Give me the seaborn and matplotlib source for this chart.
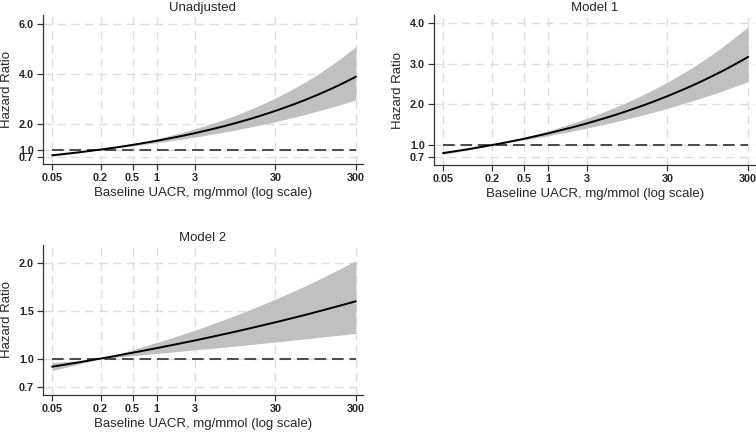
import matplotlib
matplotlib.use('Agg')
import matplotlib.pyplot as plt
import seaborn as sns
import pandas as pd
import numpy as np

# UACR grid (mg/mmol) read along the x axis
uacr = [0.05, 0.1, 0.2, 0.3, 0.5, 1, 2, 3, 5, 7, 10, 15, 20, 30, 50, 70, 100, 150, 200, 300]

# Unadjusted
hr_unadj = [0.773, 0.879, 1.0, 1.078, 1.186, 1.349, 1.535, 1.655, 1.820, 1.937,
            2.071, 2.232, 2.356, 2.540, 2.793, 2.974, 3.177, 3.425, 3.614, 3.897]
up_unadj = [0.813, 0.902, 1.0, 1.094, 1.227, 1.431, 1.670, 1.829, 2.048, 2.207,
            2.391, 2.615, 2.790, 3.053, 3.421, 3.688, 3.991, 4.367, 4.658, 5.097]
lo_unadj = [0.735, 0.857, 1.0, 1.062, 1.147, 1.272, 1.411, 1.498, 1.617, 1.700,
            1.794, 1.905, 1.990, 2.113, 2.280, 2.398, 2.529, 2.686, 2.804, 2.979]

# Model 1
hr_m1 = [0.804, 0.896, 1.0, 1.066, 1.155, 1.289, 1.438, 1.533, 1.662, 1.752,
         1.854, 1.976, 2.068, 2.205, 2.390, 2.520, 2.666, 2.842, 2.975, 3.171]
up_m1 = [0.837, 0.914, 1.0, 1.079, 1.186, 1.351, 1.537, 1.659, 1.825, 1.943,
         2.076, 2.239, 2.364, 2.549, 2.806, 2.986, 3.191, 3.444, 3.635, 3.919]
lo_m1 = [0.772, 0.878, 1.0, 1.054, 1.125, 1.230, 1.345, 1.417, 1.514, 1.580,
         1.655, 1.744, 1.809, 1.907, 2.036, 2.127, 2.227, 2.345, 2.435, 2.565]

# Model 2
hr_m2 = [0.915, 0.956, 1.0, 1.026, 1.061, 1.109, 1.160, 1.190, 1.230, 1.257,
         1.286, 1.320, 1.345, 1.380, 1.426, 1.457, 1.491, 1.531, 1.559, 1.600]
up_m2 = [0.957, 0.978, 1.0, 1.039, 1.093, 1.168, 1.249, 1.298, 1.365, 1.410,
         1.460, 1.518, 1.560, 1.623, 1.704, 1.760, 1.822, 1.895, 1.949, 2.026]
lo_m2 = [0.875, 0.935, 1.0, 1.013, 1.030, 1.053, 1.077, 1.091, 1.108, 1.120,
         1.133, 1.148, 1.159, 1.173, 1.193, 1.206, 1.220, 1.237, 1.247, 1.264]

x_ticks = [0.05, 0.2, 0.5, 1, 3, 30, 300]
x_ticklabels = ['0.05', '0.2', '0.5', '1', '3', '30', '300']

sns.set_style('ticks')
plt.rcParams['font.family'] = ['Liberation Sans', 'DejaVu Sans']

fig = plt.figure(figsize=(7.56, 4.32), dpi=100)

panels = [
    ('Unadjusted', hr_unadj, up_unadj, lo_unadj, [0.7, 1.0, 2.0, 4.0, 6.0], (0.42, 6.35),
     [0.057, 0.620, 0.423, 0.345]),
    ('Model 1', hr_m1, up_m1, lo_m1, [0.7, 1.0, 2.0, 3.0, 4.0], (0.51, 4.2),
     [0.574, 0.618, 0.425, 0.347]),
    ('Model 2', hr_m2, up_m2, lo_m2, [0.7, 1.0, 1.5, 2.0], (0.62, 2.19),
     [0.057, 0.086, 0.423, 0.347]),
]

for title, hr, up, lo, yt, ylim, pos in panels:
    ax = fig.add_axes(pos)
    df = pd.DataFrame({'uacr': uacr, 'hr': hr, 'upper': up, 'lower': lo})
    ax.fill_between(df['uacr'], df['lower'], df['upper'], color='#c0c0c0', lw=0, zorder=2)
    sns.lineplot(data=df, x='uacr', y='hr', color='black', lw=1.4, ax=ax, zorder=3)
    ax.hlines(1.0, uacr[0], uacr[-1], color='#4a4a4a', lw=1.4, linestyles=(0, (6, 3)), zorder=2.5)
    ax.set_xscale('log')
    ax.set_xlim(0.0386, 367)
    ax.set_ylim(*ylim)
    ax.set_xticks(x_ticks)
    ax.set_xticklabels(x_ticklabels)
    ax.minorticks_off()
    ax.set_yticks(yt)
    ax.set_yticklabels([f'{v:.1f}' for v in yt])
    ax.grid(True, color='#dddddd', lw=1.0, ls=(0, (6, 4)), zorder=0)
    ax.set_axisbelow(True)
    for lab in ax.get_xticklabels() + ax.get_yticklabels():
        lab.set_fontweight('bold')
        lab.set_fontsize(7.8)
    ax.tick_params(length=4.5, width=0.9, pad=2, color='#333333')
    sns.despine(ax=ax)
    for s in ['left', 'bottom']:
        ax.spines[s].set_linewidth(0.9)
        ax.spines[s].set_color('#333333')
    ax.set_xlabel('Baseline UACR, mg/mmol (log scale)', fontsize=9.5, labelpad=3)
    ax.set_ylabel('Hazard Ratio', fontsize=9.5, labelpad=4)
    ax.set_title(title, fontsize=9.5, pad=3)

fig.savefig('out.png', dpi=100)
